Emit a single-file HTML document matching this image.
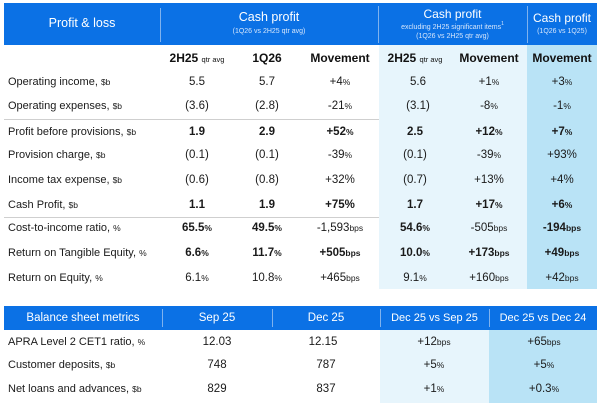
<!DOCTYPE html>
<html><head><meta charset="utf-8">
<style>
html,body{margin:0;padding:0;background:#fff;}
body{width:602px;height:403px;position:relative;overflow:hidden;font-family:"Liberation Sans",Arial,sans-serif;color:#1a1a1a;}
.a{position:absolute;}
.t{position:absolute;text-align:center;white-space:nowrap;line-height:14px;height:14px;font-size:11.5px;}
.l{position:absolute;left:8px;white-space:nowrap;line-height:14px;height:14px;font-size:11px;color:#1a1a1a;}
.u{font-size:8.5px;}
.b{font-weight:bold;}
.h{color:#fff;position:absolute;text-align:center;white-space:nowrap;}
.ch{font-size:12px;font-weight:bold;color:#111;}
.sm{font-size:7.5px;font-weight:normal;}
.dv{position:absolute;width:1px;background:#7fb2ee;}
.sep{position:absolute;left:4px;width:375px;height:1px;background:#cfcfcf;}
sup{vertical-align:top;line-height:0;position:relative;top:1px;}
</style></head><body>
<!-- top header -->
<div class="a" style="left:4px;top:3px;width:593px;height:42px;background:#0b71e5;"></div>
<div class="dv" style="left:160px;top:8px;height:34px;"></div>
<div class="dv" style="left:378px;top:6px;height:37px;"></div>
<div class="dv" style="left:527px;top:6px;height:37px;"></div>
<div class="h" style="left:4px;width:156px;top:16px;font-size:12.5px;line-height:14px;">Profit &amp; loss</div>
<div class="h" style="left:160px;width:218px;top:10px;font-size:12.5px;line-height:14px;">Cash profit</div>
<div class="h" style="left:160px;width:218px;top:27px;font-size:7px;line-height:9px;color:#d6e6fb;">(1Q26 vs 2H25 qtr avg)</div>
<div class="h" style="left:378px;width:149px;top:7px;font-size:12px;line-height:14px;">Cash profit</div>
<div class="h" style="left:378px;width:149px;top:23px;font-size:7px;line-height:9px;height:9px;color:#d6e6fb;">excluding 2H25 significant items<sup style="font-size:5px">1</sup></div>
<div class="h" style="left:378px;width:149px;top:32px;font-size:7px;line-height:9px;height:9px;color:#d6e6fb;">(1Q26 vs 2H25 qtr avg)</div>
<div class="h" style="left:527px;width:70px;top:11px;font-size:12px;line-height:14px;">Cash profit</div>
<div class="h" style="left:527px;width:70px;top:27px;font-size:7px;line-height:9px;color:#d6e6fb;">(1Q26 vs 1Q25)</div>

<!-- column backgrounds -->
<div class="a" style="left:379px;top:45px;width:148px;height:244px;background:#e7f5fc;"></div>
<div class="a" style="left:527px;top:45px;width:70px;height:244px;background:#b9e3f6;"></div>

<!-- separators -->
<div class="sep" style="top:119px;"></div>
<div class="sep" style="top:217px;"></div>

<!-- column headers -->
<div class="t ch" style="left:157px;width:80px;top:51px;">2H25 <span class="sm">qtr avg</span></div>
<div class="t ch" style="left:227px;width:80px;top:51px;">1Q26</div>
<div class="t ch" style="left:300px;width:80px;top:51px;">Movement</div>
<div class="t ch" style="left:375px;width:80px;top:51px;">2H25 <span class="sm">qtr avg</span></div>
<div class="t ch" style="left:449px;width:80px;top:51px;">Movement</div>
<div class="t ch" style="left:522px;width:80px;top:51px;">Movement</div>

<!-- rows -->
<div class="l" style="top:75px;">Operating income, <span class="u">$b</span></div>
<div class="t" style="left:157px;width:80px;top:75px;">5.5</div>
<div class="t" style="left:227px;width:80px;top:75px;">5.7</div>
<div class="t" style="left:300px;width:80px;top:75px;">+4<span class="u">%</span></div>
<div class="t" style="left:378px;width:80px;top:75px;">5.6</div>
<div class="t" style="left:449px;width:80px;top:75px;">+1<span class="u">%</span></div>
<div class="t" style="left:522px;width:80px;top:75px;">+3<span class="u">%</span></div>

<div class="l" style="top:99px;">Operating expenses, <span class="u">$b</span></div>
<div class="t" style="left:157px;width:80px;top:99px;">(3.6)</div>
<div class="t" style="left:227px;width:80px;top:99px;">(2.8)</div>
<div class="t" style="left:300px;width:80px;top:99px;">-21<span class="u">%</span></div>
<div class="t" style="left:378px;width:80px;top:99px;">(3.1)</div>
<div class="t" style="left:449px;width:80px;top:99px;">-8<span class="u">%</span></div>
<div class="t" style="left:522px;width:80px;top:99px;">-1<span class="u">%</span></div>

<div class="l" style="top:125px;">Profit before provisions, <span class="u">$b</span></div>
<div class="t b" style="left:157px;width:80px;top:125px;">1.9</div>
<div class="t b" style="left:227px;width:80px;top:125px;">2.9</div>
<div class="t b" style="left:300px;width:80px;top:125px;">+52<span class="u">%</span></div>
<div class="t b" style="left:375px;width:80px;top:125px;">2.5</div>
<div class="t b" style="left:449px;width:80px;top:125px;">+12<span class="u">%</span></div>
<div class="t b" style="left:522px;width:80px;top:125px;">+7<span class="u">%</span></div>

<div class="l" style="top:148px;">Provision charge, <span class="u">$b</span></div>
<div class="t" style="left:157px;width:80px;top:148px;">(0.1)</div>
<div class="t" style="left:227px;width:80px;top:148px;">(0.1)</div>
<div class="t" style="left:300px;width:80px;top:148px;">-39<span class="u">%</span></div>
<div class="t" style="left:375px;width:80px;top:148px;">(0.1)</div>
<div class="t" style="left:449px;width:80px;top:148px;">-39<span class="u">%</span></div>
<div class="t" style="left:522px;width:80px;top:148px;">+93%</div>

<div class="l" style="top:173px;">Income tax expense, <span class="u">$b</span></div>
<div class="t" style="left:157px;width:80px;top:173px;">(0.6)</div>
<div class="t" style="left:227px;width:80px;top:173px;">(0.8)</div>
<div class="t" style="left:300px;width:80px;top:173px;">+32%</div>
<div class="t" style="left:375px;width:80px;top:173px;">(0.7)</div>
<div class="t" style="left:449px;width:80px;top:173px;">+13%</div>
<div class="t" style="left:522px;width:80px;top:173px;">+4%</div>

<div class="l" style="top:198px;">Cash Profit, <span class="u">$b</span></div>
<div class="t b" style="left:157px;width:80px;top:198px;">1.1</div>
<div class="t b" style="left:227px;width:80px;top:198px;">1.9</div>
<div class="t b" style="left:300px;width:80px;top:198px;">+75%</div>
<div class="t b" style="left:375px;width:80px;top:198px;">1.7</div>
<div class="t b" style="left:449px;width:80px;top:198px;">+17<span class="u">%</span></div>
<div class="t b" style="left:522px;width:80px;top:198px;">+6<span class="u">%</span></div>

<div class="l" style="top:221px;">Cost-to-income ratio, <span class="u">%</span></div>
<div class="t b" style="left:157px;width:80px;top:221px;">65.5<span class="u">%</span></div>
<div class="t b" style="left:227px;width:80px;top:221px;">49.5<span class="u">%</span></div>
<div class="t" style="left:300px;width:80px;top:221px;">-1,593<span class="u">bps</span></div>
<div class="t b" style="left:375px;width:80px;top:221px;">54.6<span class="u">%</span></div>
<div class="t" style="left:449px;width:80px;top:221px;">-505<span class="u">bps</span></div>
<div class="t b" style="left:522px;width:80px;top:221px;">-194<span class="u">bps</span></div>

<div class="l" style="top:246px;">Return on Tangible Equity, <span class="u">%</span></div>
<div class="t b" style="left:157px;width:80px;top:246px;">6.6<span class="u">%</span></div>
<div class="t b" style="left:227px;width:80px;top:246px;">11.7<span class="u">%</span></div>
<div class="t b" style="left:300px;width:80px;top:246px;">+505<span class="u">bps</span></div>
<div class="t b" style="left:375px;width:80px;top:246px;">10.0<span class="u">%</span></div>
<div class="t b" style="left:449px;width:80px;top:246px;">+173<span class="u">bps</span></div>
<div class="t b" style="left:522px;width:80px;top:246px;">+49<span class="u">bps</span></div>

<div class="l" style="top:271px;">Return on Equity, <span class="u">%</span></div>
<div class="t" style="left:157px;width:80px;top:271px;">6.1<span class="u">%</span></div>
<div class="t" style="left:227px;width:80px;top:271px;">10.8<span class="u">%</span></div>
<div class="t" style="left:300px;width:80px;top:271px;">+465<span class="u">bps</span></div>
<div class="t" style="left:375px;width:80px;top:271px;">9.1<span class="u">%</span></div>
<div class="t" style="left:449px;width:80px;top:271px;">+160<span class="u">bps</span></div>
<div class="t" style="left:522px;width:80px;top:271px;">+42<span class="u">bps</span></div>

<!-- bottom table -->
<div class="a" style="left:4px;top:306px;width:593px;height:24px;background:#0b71e5;"></div>
<div class="dv" style="left:162px;top:309px;height:18px;"></div>
<div class="dv" style="left:272px;top:309px;height:18px;"></div>
<div class="dv" style="left:380px;top:309px;height:18px;"></div>
<div class="dv" style="left:489px;top:309px;height:18px;"></div>
<div class="h" style="left:4px;width:158px;top:311px;font-size:11.5px;line-height:14px;">Balance sheet metrics</div>
<div class="h" style="left:162px;width:110px;top:311px;font-size:11.5px;line-height:14px;">Sep 25</div>
<div class="h" style="left:272px;width:108px;top:311px;font-size:11.5px;line-height:14px;">Dec 25</div>
<div class="h" style="left:380px;width:109px;top:311px;font-size:11px;line-height:14px;">Dec 25 vs Sep 25</div>
<div class="h" style="left:489px;width:108px;top:311px;font-size:11px;line-height:14px;">Dec 25 vs Dec 24</div>

<div class="a" style="left:380px;top:330px;width:109px;height:73px;background:#e7f5fc;"></div>
<div class="a" style="left:489px;top:330px;width:108px;height:73px;background:#b9e3f6;"></div>

<div class="l" style="top:335px;">APRA Level 2 CET1 ratio, <span class="u">%</span></div>
<div class="t" style="left:177px;width:80px;top:335px;">12.03</div>
<div class="t" style="left:283px;width:80px;top:335px;">12.15</div>
<div class="t" style="left:394px;width:80px;top:335px;">+12<span class="u">bps</span></div>
<div class="t" style="left:504px;width:80px;top:335px;">+65<span class="u">bps</span></div>

<div class="l" style="top:358px;">Customer deposits, <span class="u">$b</span></div>
<div class="t" style="left:177px;width:80px;top:358px;">748</div>
<div class="t" style="left:286px;width:80px;top:358px;">787</div>
<div class="t" style="left:394px;width:80px;top:358px;">+5<span class="u">%</span></div>
<div class="t" style="left:504px;width:80px;top:358px;">+5<span class="u">%</span></div>

<div class="l" style="top:382px;">Net loans and advances, <span class="u">$b</span></div>
<div class="t" style="left:177px;width:80px;top:382px;">829</div>
<div class="t" style="left:286px;width:80px;top:382px;">837</div>
<div class="t" style="left:394px;width:80px;top:382px;">+1<span class="u">%</span></div>
<div class="t" style="left:504px;width:80px;top:382px;">+0.3<span class="u">%</span></div>
</body></html>
